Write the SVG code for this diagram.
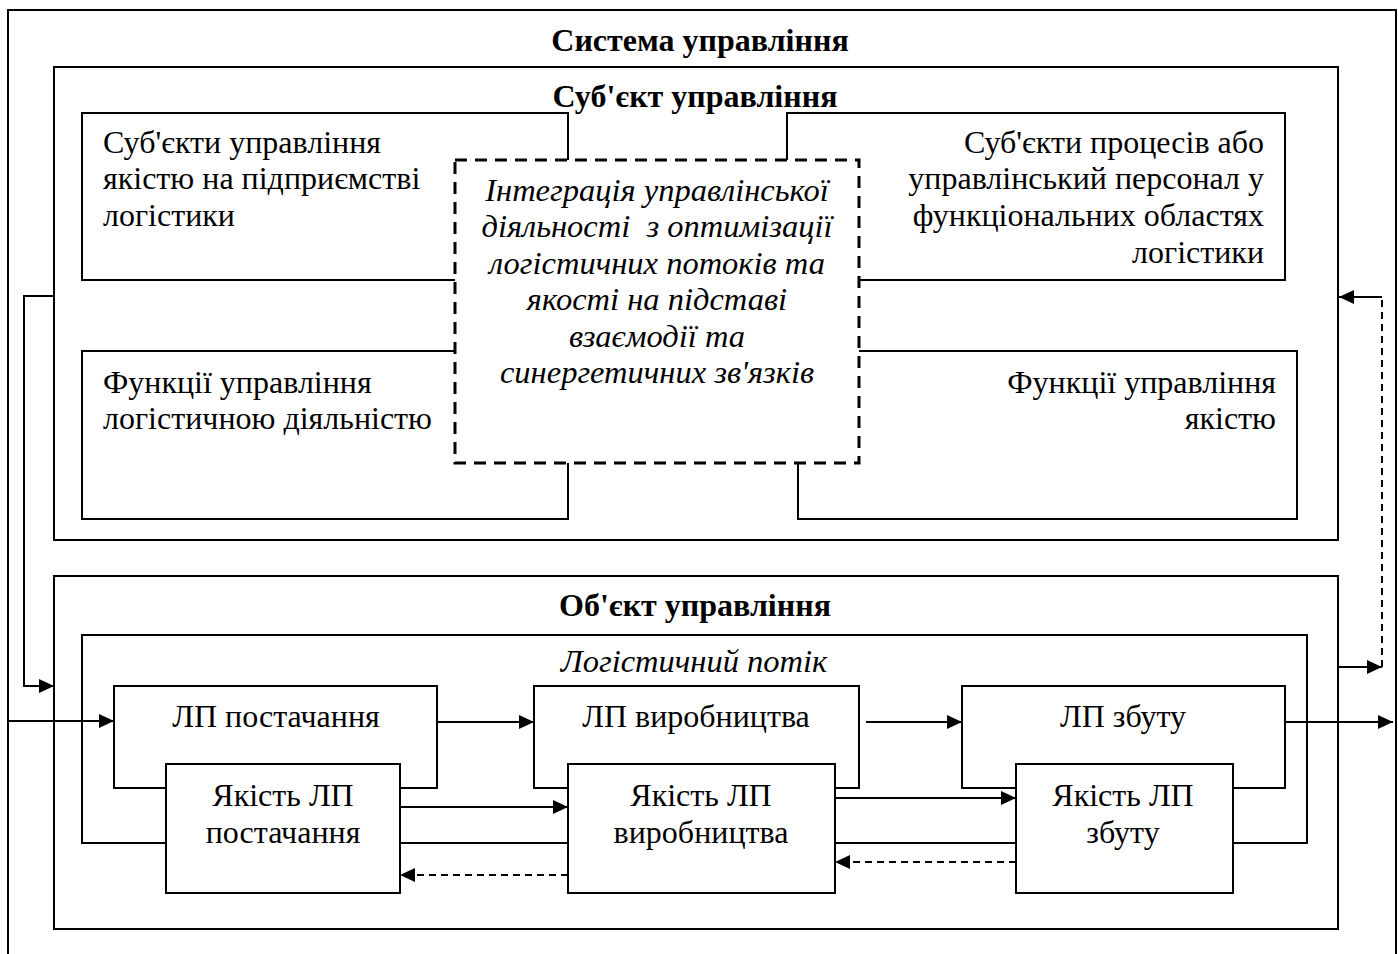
<svg xmlns="http://www.w3.org/2000/svg" width="1398" height="954" viewBox="0 0 1398 954">
<defs>
<marker id="ah" markerWidth="16" markerHeight="14" refX="15" refY="7" orient="auto" markerUnits="userSpaceOnUse">
<path d="M0,0 L15,7 L0,14 Z" fill="#000"/>
</marker>
<style>
.box{fill:#fff;stroke:#000;stroke-width:2}
.frame{fill:none;stroke:#000;stroke-width:2}
.dash{fill:#fff;stroke:#000;stroke-width:3;stroke-dasharray:12 8}
.t{font-family:"Liberation Serif","Times New Roman",serif;font-size:32px;fill:#000}
.b{font-family:"Liberation Serif","Times New Roman",serif;font-size:32px;font-weight:bold;fill:#000}
.i{font-family:"Liberation Serif","Times New Roman",serif;font-size:32.5px;font-style:italic;fill:#000}
.c{text-anchor:middle}
.e{text-anchor:end}
.ln{fill:none;stroke:#000;stroke-width:2}
.dl{fill:none;stroke:#000;stroke-width:2;stroke-dasharray:7 5}
</style>
</defs>
<rect width="1398" height="954" fill="#fff"/>
<g id="system">
<rect class="frame" x="8" y="10" width="1388" height="960"/>
<text class="b c" x="700" y="51">Система управління</text>
</g>
<g id="subject">
<rect class="frame" x="54" y="67" width="1284" height="473"/>
<text class="b c" x="695" y="107">Суб'єкт управління</text>
</g>
<g id="subj-quality">
<rect class="box" x="82" y="113" width="486" height="167"/>
<text class="t" x="103" y="153">Суб'єкти управління</text>
<text class="t" x="103" y="189">якістю на підприємстві</text>
<text class="t" x="103" y="226">логістики</text>
</g>
<g id="subj-process">
<rect class="box" x="787" y="113" width="498" height="167"/>
<text class="t e" x="1264" y="153">Суб'єкти процесів або</text>
<text class="t e" x="1264" y="189">управлінський персонал у</text>
<text class="t e" x="1264" y="226">функціональних областях</text>
<text class="t e" x="1264" y="263">логістики</text>
</g>
<g id="func-logistics">
<rect class="box" x="82" y="351" width="486" height="168"/>
<text class="t" x="103" y="393">Функції управління</text>
<text class="t" x="103" y="429">логістичною діяльністю</text>
</g>
<g id="func-quality">
<rect class="box" x="798" y="351" width="499" height="168"/>
<text class="t e" x="1276" y="393">Функції управління</text>
<text class="t e" x="1276" y="429">якістю</text>
</g>
<g id="integration">
<rect class="dash" x="455" y="160" width="404" height="303"/>
<text class="i c" x="657" y="201">Інтеграція управлінської</text>
<text class="i c" x="657" y="237" xml:space="preserve">діяльності  з оптимізації</text>
<text class="i c" x="657" y="274">логістичних потоків та</text>
<text class="i c" x="657" y="310">якості на підставі</text>
<text class="i c" x="657" y="347">взаємодії та</text>
<text class="i c" x="657" y="383">синергетичних зв'язків</text>
</g>
<g id="object">
<rect class="frame" x="54" y="576" width="1284" height="353"/>
<text class="b c" x="695" y="616">Об'єкт управління</text>
</g>
<g id="flow">
<rect class="frame" x="82" y="635" width="1225" height="208"/>
<text class="i c" x="694" y="672">Логістичний потік</text>
</g>
<g id="lp-supply">
<rect class="box" x="114" y="686" width="323" height="102"/>
<text class="t c" x="276" y="727">ЛП постачання</text>
</g>
<g id="lp-production">
<rect class="box" x="534" y="686" width="325" height="102"/>
<text class="t c" x="696" y="727">ЛП виробництва</text>
</g>
<g id="lp-sales">
<rect class="box" x="962" y="686" width="323" height="102"/>
<text class="t c" x="1123" y="727">ЛП збуту</text>
</g>
<g id="q-supply">
<rect class="box" x="166" y="764" width="234" height="129"/>
<text class="t c" x="283" y="806">Якість ЛП</text>
<text class="t c" x="283" y="843">постачання</text>
</g>
<g id="q-production">
<rect class="box" x="568" y="764" width="267" height="129"/>
<text class="t c" x="701" y="806">Якість ЛП</text>
<text class="t c" x="701" y="843">виробництва</text>
</g>
<g id="q-sales">
<rect class="box" x="1016" y="764" width="217" height="129"/>
<text class="t c" x="1123" y="806">Якість ЛП</text>
<text class="t c" x="1123" y="843">збуту</text>
</g>
<g id="connectors">
<path class="ln" d="M54,296 H24 V686 H54" marker-end="url(#ah)"/>
<path class="ln" d="M8,721 H114" marker-end="url(#ah)"/>
<path class="ln" d="M437,722 H534" marker-end="url(#ah)"/>
<path class="ln" d="M866,722 H962" marker-end="url(#ah)"/>
<path class="ln" d="M1285,722 H1393" marker-end="url(#ah)"/>
<path class="ln" d="M400,807 H568" marker-end="url(#ah)"/>
<path class="ln" d="M835,798 H1016" marker-end="url(#ah)"/>
<path class="dl" d="M568,875 H400" marker-end="url(#ah)"/>
<path class="dl" d="M1016,862 H835" marker-end="url(#ah)"/>
<path class="ln" d="M1338,667 H1382" marker-end="url(#ah)"/>
<path class="dl" d="M1382,667 V297"/>
<path class="ln" d="M1382,297 H1339" marker-end="url(#ah)"/>
</g>
</svg>
